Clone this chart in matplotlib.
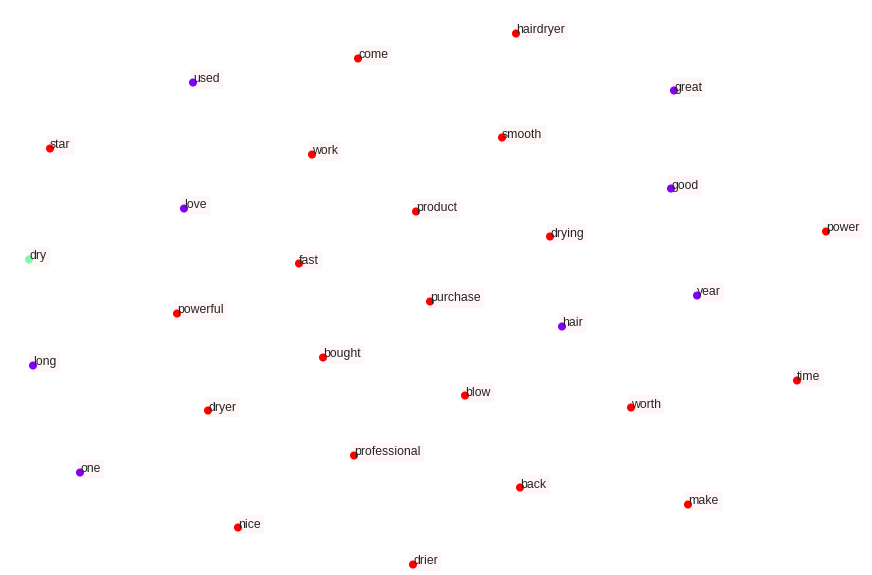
"""Word embedding scatter: 2-D projection of review words coloured by cluster."""

import matplotlib
matplotlib.use("Agg")
import matplotlib.pyplot as plt

words = [
    "hairdryer", "come", "used", "great", "star", "work", "smooth", "good",
    "love", "product", "drying", "power", "dry", "fast", "purchase", "year",
    "powerful", "hair", "long", "bought", "blow", "time", "worth", "dryer",
    "professional", "one", "back", "make", "nice", "drier",
]
x_coords = [
    516, 358, 193, 674, 50, 312, 502, 671,
    184, 416, 550, 826, 29, 299, 430, 697,
    177, 562, 33, 323, 465, 797, 631, 208,
    354, 80, 520, 688, 238, 413,
]
y_coords = [
    33.5, 58.5, 82.5, 90.5, 148.5, 154.5, 137.5, 188.5,
    208.5, 211.5, 236.5, 231.5, 259.5, 263.5, 301.5, 295.5,
    313.5, 326.5, 365.5, 357.5, 395.5, 380.5, 407.5, 410.5,
    455.5, 472.5, 487.5, 504.5, 527.5, 564.5,
]
clusters = [
    2, 2, 0, 0, 2, 2, 2, 0,
    0, 2, 2, 2, 1, 2, 2, 0,
    2, 0, 0, 2, 2, 2, 2, 2,
    2, 0, 2, 2, 2, 2,
]

plt.rcParams["font.family"] = ["Liberation Sans", "DejaVu Sans"]

fig = plt.figure(figsize=(8.72, 5.75), dpi=100)
ax = fig.add_axes([0, 0, 1, 1])

ax.scatter(x_coords, y_coords, c=clusters, cmap="rainbow", s=34, linewidths=0)
for word, x, y in zip(words, x_coords, y_coords):
    ax.annotate(
        word,
        (x, y),
        fontsize=8.8,
        color="#262626",
        bbox=dict(facecolor="red", alpha=0.03, edgecolor="none", pad=2.5),
    )

ax.set_xlim(0, 872)
ax.set_ylim(575, 0)
ax.axis("off")

fig.savefig("out.png", dpi=100, facecolor="white")
